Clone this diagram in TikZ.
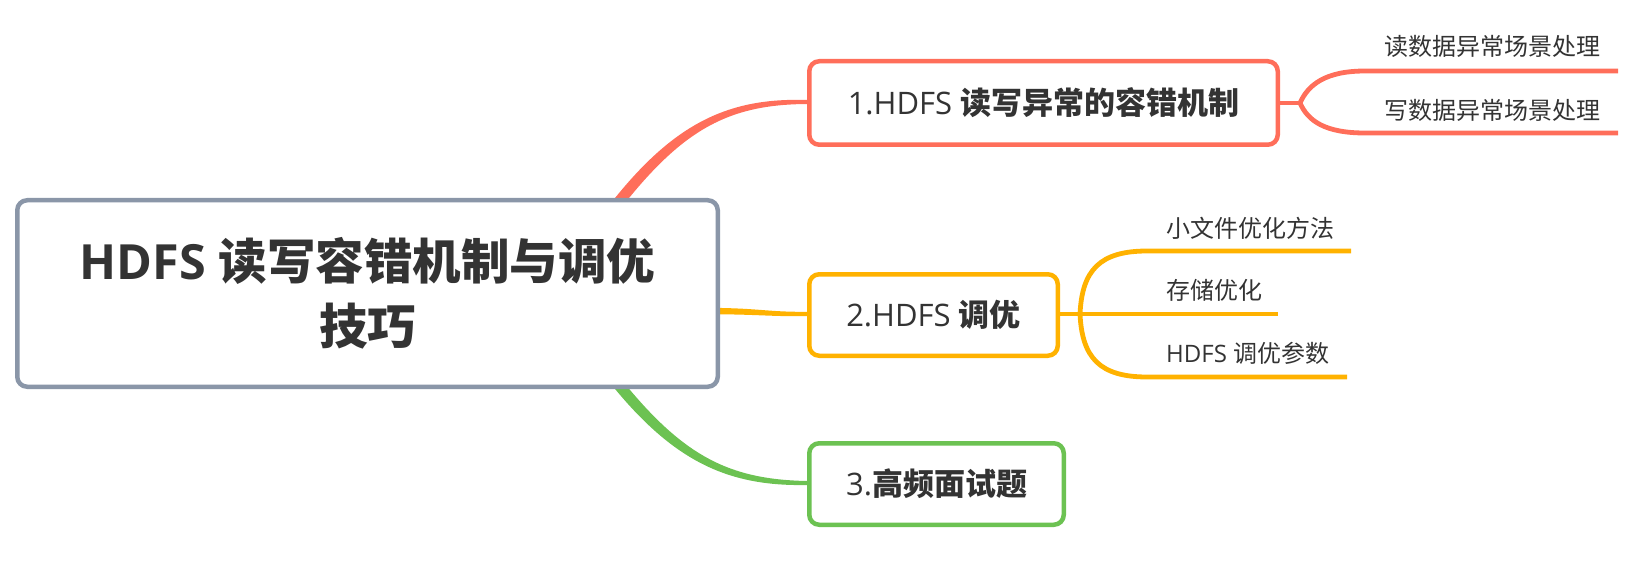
\documentclass[tikz,border=0pt]{standalone}
\usepackage{fontspec}
\setmainfont{Open Sans}
\newfontfamily\cjk{Noto Sans CJK SC}
\usetikzlibrary{calc}
\pgfdeclarelayer{bg}
\pgfsetlayers{bg,main}
\definecolor{cred}{RGB}{255,110,90}
\definecolor{corange}{RGB}{255,178,0}
\definecolor{cgreen}{RGB}{108,194,82}
\definecolor{cgray}{RGB}{138,150,168}
\definecolor{txt}{RGB}{51,51,51}
\tikzset{
  topic/.style={draw, line width=4.5pt, rounded corners=10pt, fill=white, inner sep=0pt, text=txt, align=center},
  subtopic/.style={inner sep=0pt, anchor=west, text=txt, font=\fontsize{24}{28}\selectfont},
  branch/.style={line width=4.8pt}
}
\begin{document}
\begin{tikzpicture}[x=1pt,y=-1pt]
\useasboundingbox (0,0) rectangle (1648,572);

% main topics
\node[topic, draw=cgray, minimum width=700.5pt, minimum height=186.5pt,
      font=\fontsize{48.5}{65}\selectfont\bfseries] (root) at (367.5,293.5)
  {HDFS {\cjk 读写容错机制与调优}\\{\cjk 技巧}};
\node[topic, draw=cred, minimum width=468.5pt, minimum height=83.5pt,
      font=\fontsize{31}{36}\selectfont] (n1) at (1043.5,103)
  {1.HDFS {\cjk\bfseries 读写异常的容错机制}};
\node[topic, draw=corange, minimum width=248.5pt, minimum height=81.5pt,
      font=\fontsize{31}{36}\selectfont] (n2) at (933.5,315)
  {2.HDFS {\cjk\bfseries 调优}};
\node[topic, draw=cgreen, minimum width=254.5pt, minimum height=81.5pt,
      font=\fontsize{31}{36}\selectfont] (n3) at (936.5,484)
  {3.{\cjk\bfseries 高频面试题}};

% subtopics
\node[subtopic] (c11) at (1384,46) {\cjk 读数据异常场景处理};
\node[subtopic] (c12) at (1384,110) {\cjk 写数据异常场景处理};
\node[subtopic] (c21) at (1166,228) {\cjk 小文件优化方法};
\node[subtopic] (c22) at (1166,290) {\cjk 存储优化};
\node[subtopic] (c23) at (1166,353) {HDFS {\cjk 调优参数}};

% connector anchors
\coordinate (rs1) at ($(root.north)+(250.5,5)$);
\coordinate (rs2) at ($(root.east)+(-18,17.5)$);
\coordinate (rs3) at ($(root.south)+(250.5,-5)$);

\begin{pgfonlayer}{bg}
% root -> n1 (tapered)
\fill[cred] ($(rs1)+(4.6,3)$) .. controls (684.2,128.1) and (730,104.5) .. ($(n1.west)+(0,1)$)
  -- ($(n1.west)+(0,-3)$) .. controls (730,97.5) and (675.8,121.9) .. ($(rs1)+(-4.6,-3)$) -- cycle;
% root -> n2
\fill[corange] ($(rs2)+(0,3.2)$) .. controls (760,314.2) and (765,316.5) .. ($(n2.west)+(0,1.2)$)
  -- ($(n2.west)+(0,-3.2)$) .. controls (765,312.1) and (760,307.8) .. ($(rs2)+(0,-3.2)$) -- cycle;
% root -> n3 (tapered)
\fill[cgreen] ($(rs3)+(4.6,-3)$) .. controls (684.2,456.9) and (730,479.5) .. ($(n3.west)+(0,-3)$)
  -- ($(n3.west)+(0,1)$) .. controls (730,486.5) and (675.8,463.1) .. ($(rs3)+(-4.6,3)$) -- cycle;

% n1 branches
\coordinate (f1) at ($(n1.east)+(20,0)$);
\coordinate (l11s) at (1365,71);  \coordinate (l11e) at (1618,71);
\coordinate (l12s) at (1365,133); \coordinate (l12e) at (1618,133);
\draw[branch, cred] (n1.east) -- (f1);
\draw[branch, cred] (f1) .. controls ++(8,-18) and ($(l11s)+(-40,0)$) .. (l11s) -- (l11e);
\draw[branch, cred] (f1) .. controls ++(8,18) and ($(l12s)+(-40,0)$) .. (l12s) -- (l12e);

% n2 branches
\coordinate (f2) at ($(n2.east)+(20,-1)$);
\coordinate (l21s) at (1147,251); \coordinate (l21e) at (1351,251);
\coordinate (l22e) at (1278,314);
\coordinate (l23s) at (1147,377); \coordinate (l23e) at (1347,377);
\draw[branch, corange] ($(n2.east)+(0,-1)$) -- (l22e);
\draw[branch, corange] (f2) .. controls ++(2,-44) and ($(l21s)+(-47,0)$) .. (l21s) -- (l21e);
\draw[branch, corange] (f2) .. controls ++(2,44) and ($(l23s)+(-47,0)$) .. (l23s) -- (l23e);
\end{pgfonlayer}
\end{tikzpicture}
\end{document}
